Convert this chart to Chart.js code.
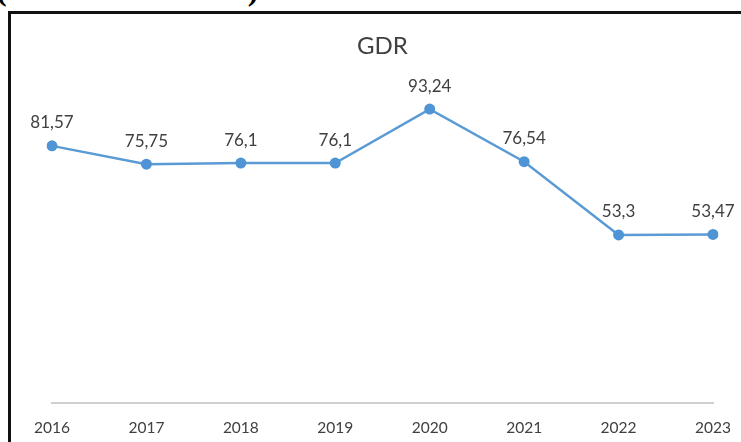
<!DOCTYPE html>
<html>
<head>
<meta charset="utf-8">
<script src="https://cdn.jsdelivr.net/npm/chart.js@4.4.1/dist/chart.umd.min.js"></script>
<style>
  html, body { margin: 0; padding: 0; background: #fff; width: 741px; height: 442px; overflow: hidden; }
  #wrap { position: relative; width: 741px; height: 442px; overflow: hidden; }
  #caption { position: absolute; left: -4px; top: -27px; font-family: "Liberation Serif", "Times New Roman", serif; font-weight: bold; font-size: 32px; line-height: 32px; color: #000; white-space: nowrap; }
  #frame { position: absolute; left: 8px; top: 11px; width: 900px; height: 600px; border-left: 3px solid #111; border-top: 3px solid #111; box-sizing: border-box; }
  #c { position: absolute; left: 0; top: 0; }
</style>
</head>
<body>
<div id="wrap">
  <div id="caption">(Gross Death Rate)</div>
  <div id="frame"></div>
  <canvas id="c" width="741" height="442"></canvas>
</div>
<script>
const chartTitle = "GDR";
const years = ["2016", "2017", "2018", "2019", "2020", "2021", "2022", "2023"];
const gdrValues = [81.57, 75.75, 76.1, 76.1, 93.24, 76.54, 53.3, 53.47];
const valueLabels = ["81,57", "75,75", "76,1", "76,1", "93,24", "76,54", "53,3", "53,47"];
const yMin = 0;
const yMax = 100;

const FONT = "Lato, 'Open Sans', sans-serif";
const TEXT_COLOR = "#404040";

const dataLabelPlugin = {
  id: "dataLabels",
  afterDatasetsDraw(chart) {
    const ctx = chart.ctx;
    const meta = chart.getDatasetMeta(0);
    ctx.save();
    ctx.font = "17px " + FONT;
    ctx.fillStyle = TEXT_COLOR;
    ctx.textAlign = "center";
    ctx.textBaseline = "middle";
    meta.data.forEach((pt, i) => {
      ctx.fillText(valueLabels[i], pt.x, pt.y - 23);
    });
    ctx.restore();
  }
};

new Chart(document.getElementById("c"), {
  type: "line",
  data: {
    labels: years,
    datasets: [{
      label: chartTitle,
      data: gdrValues,
      borderColor: "#5B9BD5",
      backgroundColor: "#5B9BD5",
      borderWidth: 2.5,
      pointRadius: 5.5,
      pointBackgroundColor: "#4F94D4",
      pointBorderColor: "#4F94D4",
      pointBorderWidth: 0,
      tension: 0,
      fill: false
    }]
  },
  options: {
    responsive: false,
    animation: false,
    devicePixelRatio: 1,
    layout: { padding: { left: 52, right: 28, top: 0, bottom: 1 } },
    plugins: {
      legend: { display: false },
      tooltip: { enabled: false },
      title: {
        display: true,
        text: chartTitle,
        color: TEXT_COLOR,
        font: { family: FONT, size: 24, weight: "normal", lineHeight: 1.2 },
        padding: { top: 32, bottom: 27 }
      }
    },
    scales: {
      x: {
        offset: false,
        grid: { display: false, drawTicks: true, tickLength: 11.5 },
        border: { display: true, color: "#d0d0d0", width: 2 },
        ticks: {
          color: TEXT_COLOR,
          font: { family: FONT, size: 15.5 },
          padding: 4,
          maxRotation: 0,
          autoSkip: false
        }
      },
      y: {
        display: false,
        min: yMin,
        max: yMax
      }
    }
  },
  plugins: [dataLabelPlugin]
});
</script>
</body>
</html>
